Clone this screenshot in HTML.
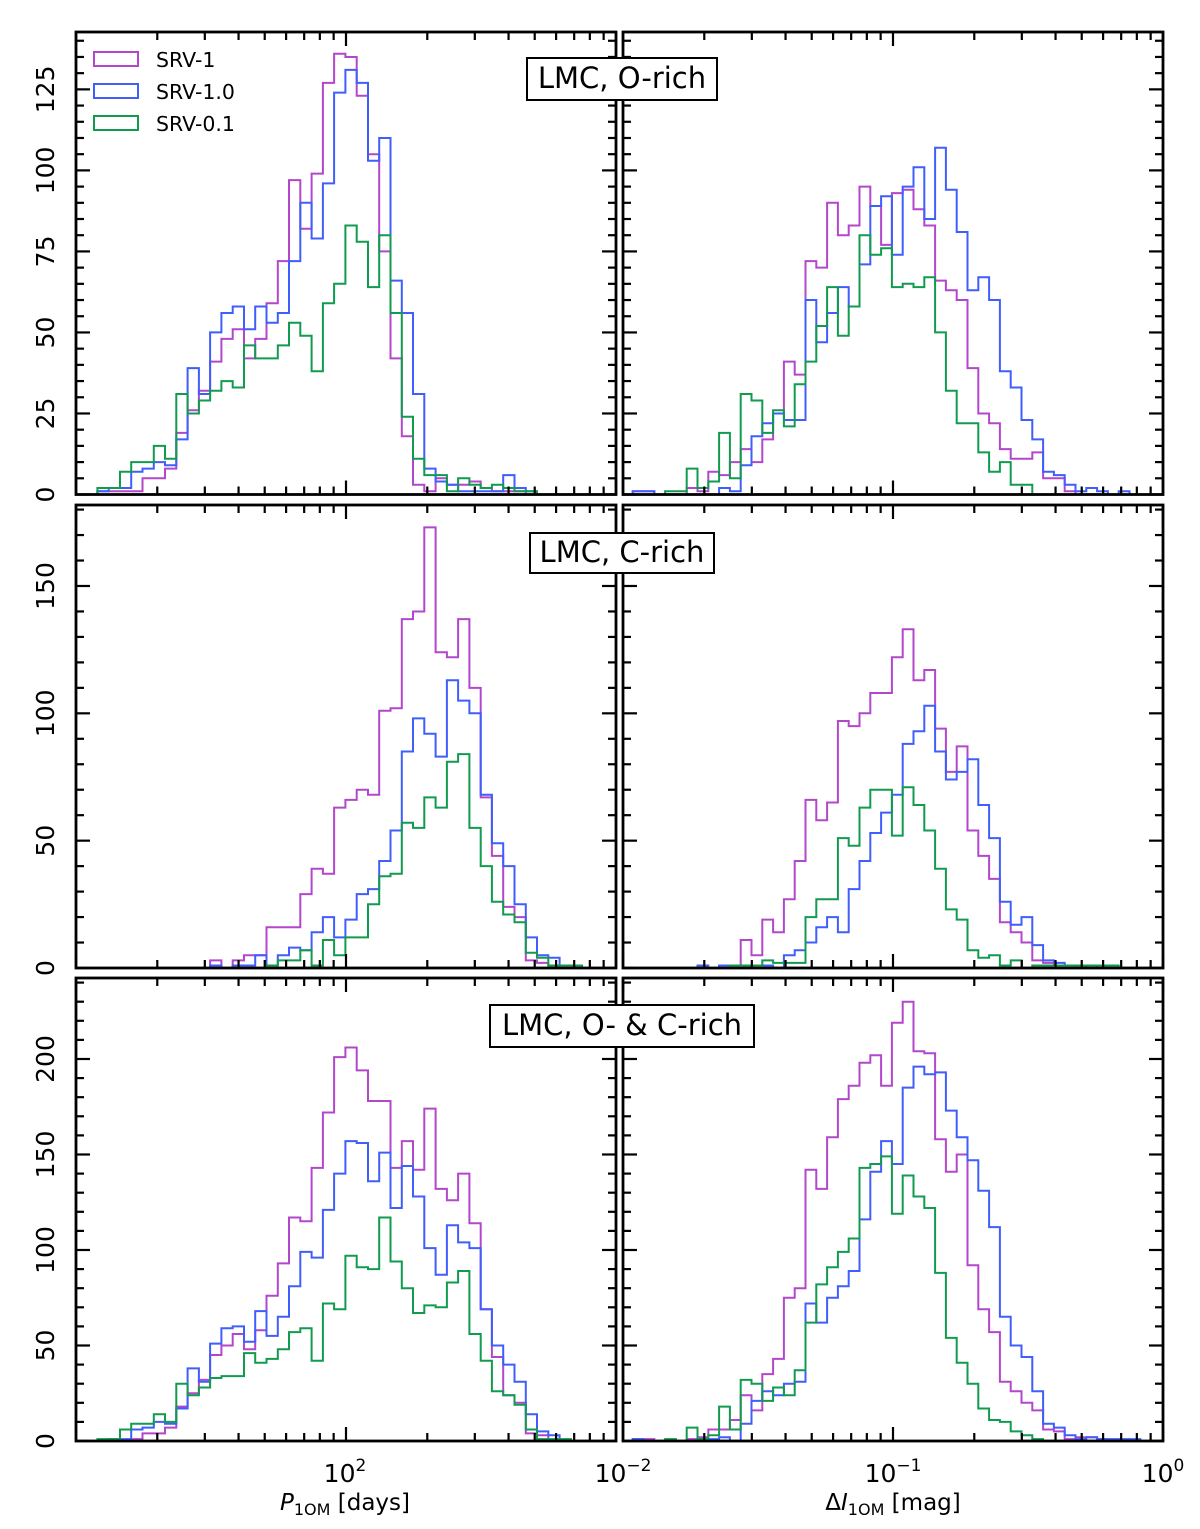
<!DOCTYPE html>
<html><head><meta charset="utf-8"><style>
html,body{margin:0;padding:0;background:#fff;}
svg{display:block;font-family:"DejaVu Sans","Liberation Sans",sans-serif;}
</style></head><body>
<svg id="chart" width="1200" height="1529" viewBox="0 0 1200 1529" xmlns="http://www.w3.org/2000/svg"></svg>
<script>
// ---- data (counts per bin) ----
const leftBinStart = 1.0793, leftBinWidth = 0.04175;   // log10 P
const rightBinStart = -1.964, rightBinWidth = 0.04;     // log10 dI
const seriesNames = ["SRV-1","SRV-1.0","SRV-0.1"];
const panelTitles = ["LMC, O-rich","LMC, C-rich","LMC, O- & C-rich"];

const oRichPeriodSrv1  = [1,1,1,1,5,5,8,19,26,32,41,48,51,42,48,59,72,97,82,99,127,136,135,123,105,75,42,18,3,1,5,3,3,4,2,1,1,1,0,0];
const oRichPeriodSrv10 = [1,2,2,7,8,10,9,17,39,31,50,56,58,51,58,53,56,72,90,79,96,124,131,127,103,110,66,56,31,8,4,3,1,1,1,1,6,2,1,0];
const oRichPeriodSrv01 = [2,2,7,10,10,15,11,31,25,29,32,35,33,46,42,42,46,53,49,38,59,65,83,78,64,80,56,24,11,6,6,1,5,3,2,3,2,1,1,0];

const oRichAmpSrv1  = [1,1,0,0,0,2,1,7,6,10,14,10,17,25,41,37,72,70,90,80,83,95,89,77,93,94,88,83,66,63,60,39,25,22,14,11,11,13,5,5,1,0,0,0,0,0,0];
const oRichAmpSrv10 = [1,1,0,0,0,0,0,0,2,1,9,18,22,25,23,23,60,47,56,64,58,71,89,92,74,95,101,85,107,94,81,63,67,60,38,33,23,17,7,6,3,1,2,1,0,1,0];
const oRichAmpSrv01 = [0,0,0,1,1,8,2,4,19,5,31,29,19,26,21,34,41,52,64,49,58,80,74,76,64,65,64,67,50,32,22,22,13,7,10,3,3,0,0,0,0,0,0,0,0,0,0];

const cRichPeriodSrv1  = [0,0,0,0,0,0,0,0,0,0,3,0,3,5,5,16,16,16,29,39,37,63,66,70,68,101,102,137,140,173,124,122,137,110,67,44,24,20,3,2,1,0];
const cRichPeriodSrv10 = [0,0,0,0,0,0,0,0,0,0,1,0,1,1,5,1,5,8,7,14,20,12,19,29,31,42,54,85,98,92,83,113,105,100,68,49,40,25,12,5,4,0];
const cRichPeriodSrv01 = [0,0,0,0,0,0,0,0,0,0,0,0,0,0,0,1,3,3,7,1,11,5,12,12,25,36,37,57,55,67,63,81,84,55,40,26,21,18,6,4,1,1,1];

const cRichAmpSrv1  = [0,0,0,0,0,0,0,0,1,1,11,5,19,14,27,42,66,58,65,97,95,100,108,108,122,133,113,117,94,77,87,54,44,35,18,14,10,3,2,1,1,1,1,0];
const cRichAmpSrv10 = [0,0,0,0,0,0,1,0,1,1,1,1,1,0,5,7,10,16,20,14,31,42,53,61,68,88,93,103,85,74,77,82,64,51,26,17,20,9,3,2,1,0,1,0];
const cRichAmpSrv01 = [0,0,0,0,0,0,0,0,0,1,1,1,3,2,2,2,20,27,27,51,48,63,70,70,52,71,64,54,39,23,19,7,4,5,1,3,0,1,1,1,1,1,1,1,1];

const allPeriodSrv1  = [0,0,0,1,4,4,7,18,25,32,45,50,56,48,58,76,93,117,115,143,172,201,206,194,178,178,143,157,142,174,132,126,140,114,69,44,24,20,4,3,0];
const allPeriodSrv10 = [0,1,1,6,7,10,9,17,38,31,51,59,60,52,68,55,65,81,99,96,121,140,157,156,136,151,122,144,128,101,87,113,104,101,69,50,40,31,14,5,3,0];
const allPeriodSrv01 = [1,1,6,9,9,14,10,30,24,28,33,34,34,46,41,43,48,57,59,42,72,69,97,91,90,117,94,80,67,71,70,83,89,56,42,26,24,19,6,1,1,1,0];

const allAmpSrv1  = [1,1,0,0,0,1,2,6,6,11,24,16,35,43,75,80,142,132,159,179,186,198,202,186,219,230,204,203,158,141,150,92,69,57,31,26,20,16,6,5,1,2,2,1,0,0,0];
const allAmpSrv10 = [1,0,0,0,0,0,1,1,2,0,9,21,26,24,30,31,72,62,75,81,89,116,141,157,145,185,196,192,193,173,159,147,131,112,65,50,44,26,9,7,3,1,2,1,1,1,1];
const allAmpSrv01 = [0,0,0,1,0,7,1,3,18,6,32,30,21,28,24,37,62,82,91,99,106,143,145,149,119,139,128,122,88,54,41,30,17,11,10,5,3,1,0,0,0,0,0,0,0,0,0];

const yMaxes = [142.7, 181.8, 242.4];
const yMajorTicks = [[0,25,50,75,100,125],[0,50,100,150],[0,50,100,150,200]];
const yMinorStep = [5,10,10];

// ---- layout ----
const NS = "http://www.w3.org/2000/svg";
const svg = document.getElementById('chart');
const colors = ["#b347cc","#3f5efb","#109b4f"];
const rows = [[32,494.5],[505,968],[978,1441]];
const cols = [{x0:76,x1:616,lmin:1,lmax:3,start:leftBinStart,w:leftBinWidth},
              {x0:623,x1:1163,lmin:-2,lmax:0,start:rightBinStart,w:rightBinWidth}];
const panelData = [
  [[oRichPeriodSrv1,oRichPeriodSrv10,oRichPeriodSrv01],[oRichAmpSrv1,oRichAmpSrv10,oRichAmpSrv01]],
  [[cRichPeriodSrv1,cRichPeriodSrv10,cRichPeriodSrv01],[cRichAmpSrv1,cRichAmpSrv10,cRichAmpSrv01]],
  [[allPeriodSrv1,allPeriodSrv10,allPeriodSrv01],[allAmpSrv1,allAmpSrv10,allAmpSrv01]]
];
function mk(tag, attrs, parent){ const e=document.createElementNS(NS,tag); for(const k in attrs) e.setAttribute(k,attrs[k]); (parent||svg).appendChild(e); return e; }

const defs = mk('defs',{});
for(let r=0;r<3;r++){
  for(let c=0;c<2;c++){
    const col=cols[c], [yt,yb]=rows[r];
    const xs = l => col.x0 + (l-col.lmin)/(col.lmax-col.lmin)*(col.x1-col.x0);
    const ys = v => yb - v/yMaxes[r]*(yb-yt);
    const cp = mk('clipPath',{id:'cp'+r+c},defs);
    mk('rect',{x:col.x0,y:yt,width:col.x1-col.x0,height:yb-yt},cp);
    const g = mk('g',{'clip-path':'url(#cp'+r+c+')'});
    
    
    panelData[r][c].forEach((arr,si)=>{
      let pts=[[xs(col.start),ys(0)]];
      arr.forEach((v,i)=>{ const a=xs(col.start+i*col.w), b=xs(col.start+(i+1)*col.w);
        pts.push([a,ys(v)]); pts.push([b,ys(v)]); });
      pts.push([xs(col.start+arr.length*col.w),ys(0)]);
      const pl = mk('polyline',{points:pts.map(p=>p[0].toFixed(1)+','+p[1].toFixed(1)).join(' '),fill:'none',stroke:colors[si],'stroke-width':2,'stroke-linejoin':'miter'},g);
      
      
    });
    const tk = mk('g',{stroke:'#000','stroke-width':2.2});
    
    
    for(let v=0; v<=yMaxes[r]; v+=yMinorStep[r]){
      const maj = yMajorTicks[r].includes(v), L = maj?14:8, y=ys(v);
      mk('line',{x1:col.x0,y1:y,x2:col.x0+L,y2:y},tk);
      mk('line',{x1:col.x1,y1:y,x2:col.x1-L,y2:y},tk);
    }
    for(let d=col.lmin; d<=col.lmax; d++){
      for(let m=1;m<=9;m++){
        const l=d+Math.log10(m); if(l>col.lmax+1e-9) break;
        const x=xs(l), L=(m===1)?14:8;
        mk('line',{x1:x,y1:yb,x2:x,y2:yb-L},tk);
        mk('line',{x1:x,y1:yt,x2:x,y2:yt+L},tk);
      }
    }
    if(c===0){
      yMajorTicks[r].forEach(v=>{
        const t=mk('text',{x:0,y:0,transform:'translate(54,'+ys(v)+') rotate(-90)','text-anchor':'middle','font-size':25,fill:'#000'});
        t.textContent=v;
        
        
      });
    }
    const fr = mk('rect',{x:col.x0,y:yt,width:col.x1-col.x0,height:yb-yt,fill:'none',stroke:'#000','stroke-width':2.8});
    
    
  }
}
const boxes=[[527,58,190,42,622,88],[530,533,184,40,622,562],[490,1005,264,42,622,1035]];
boxes.forEach((b,i)=>{
  const g=mk('g',{});
  
  
  mk('rect',{x:b[0],y:b[1],width:b[2],height:b[3],fill:'#fff',stroke:'#000','stroke-width':2},g);
  const t=mk('text',{x:b[4],y:b[5],'text-anchor':'middle','font-size':29,fill:'#000'},g);
  t.textContent=panelTitles[i];
});
const lg=mk('g',{});


seriesNames.forEach((n,i)=>{
  const y=52+i*32;
  const e=mk('g',{},lg);
  
  
  mk('rect',{x:94,y:y,width:44,height:14,fill:'none',stroke:colors[i],'stroke-width':2},e);
  const t=mk('text',{x:156,y:y+15,'font-size':20.5,fill:'#000'},e); t.textContent=n;
});
</script>
<svg style="position:absolute;left:0;top:0" width="1200" height="1529">
  <g font-family="DejaVu Sans, Liberation Sans, sans-serif" fill="#000">
    <text x="345" y="1482" text-anchor="middle" font-size="25">10<tspan font-size="17" dy="-11">2</tspan></text>
    <text x="623" y="1482" text-anchor="middle" font-size="25">10<tspan font-size="17" dy="-11">−2</tspan></text>
    <text x="893" y="1482" text-anchor="middle" font-size="25">10<tspan font-size="17" dy="-11">−1</tspan></text>
    <text x="1163" y="1482" text-anchor="middle" font-size="25">10<tspan font-size="17" dy="-11">0</tspan></text>
    <text x="345" y="1510" text-anchor="middle" font-size="23"><tspan font-style="italic">P</tspan><tspan font-size="16" dy="5">1OM</tspan><tspan dy="-5"> [days]</tspan></text>
    <text x="893" y="1510" text-anchor="middle" font-size="23">Δ<tspan font-style="italic">I</tspan><tspan font-size="16" dy="5">1OM</tspan><tspan dy="-5"> [mag]</tspan></text>
  </g>
</svg>
</body></html>
